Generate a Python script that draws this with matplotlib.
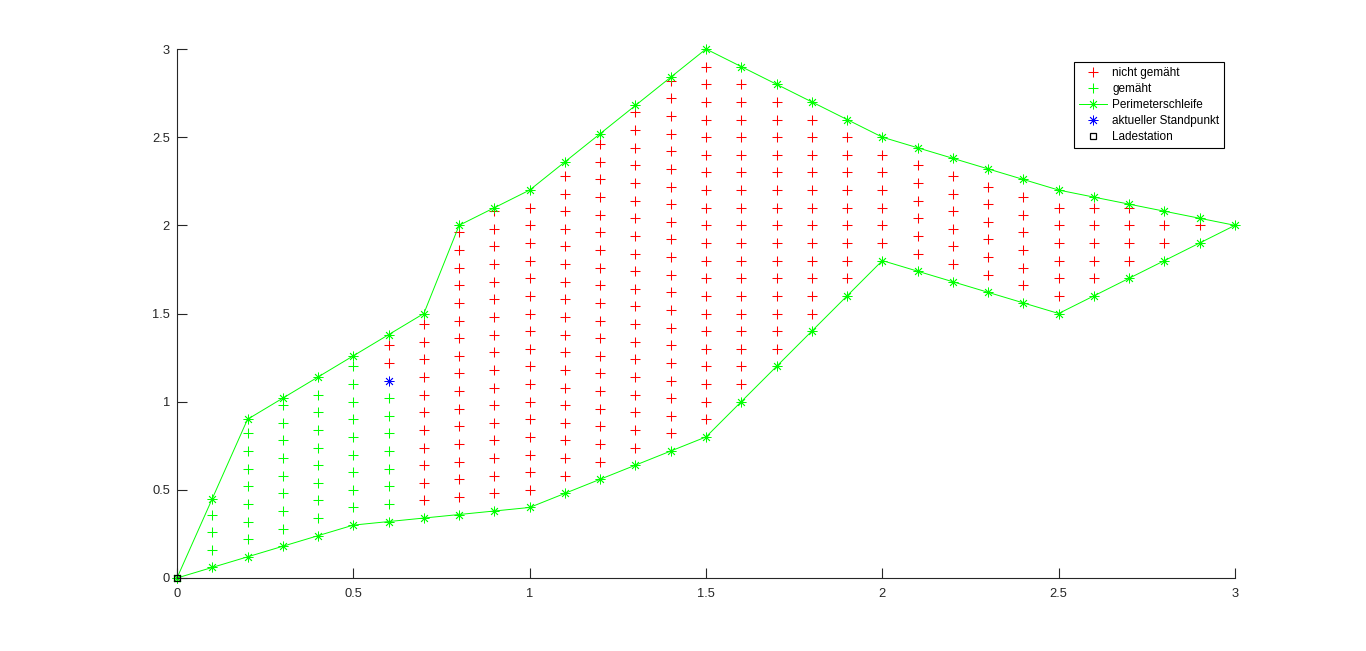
import numpy as np
import matplotlib
matplotlib.use("Agg")
import matplotlib.pyplot as plt
from matplotlib.ticker import FuncFormatter

plt.rcParams['font.family'] = ['Liberation Sans', 'DejaVu Sans']

# Perimeterschleife (geschlossen: oben hin, unten zurück)
perim_x = [0.0, 0.1, 0.2, 0.3, 0.4, 0.5, 0.6, 0.7, 0.8, 0.9, 1.0, 1.1, 1.2, 1.3, 1.4, 1.5,
           1.6, 1.7, 1.8, 1.9, 2.0, 2.1, 2.2, 2.3, 2.4, 2.5, 2.6, 2.7, 2.8, 2.9, 3.0,
           2.9, 2.8, 2.7, 2.6, 2.5, 2.4, 2.3, 2.2, 2.1, 2.0, 1.9, 1.8, 1.7, 1.6, 1.5,
           1.4, 1.3, 1.2, 1.1, 1.0, 0.9, 0.8, 0.7, 0.6, 0.5, 0.4, 0.3, 0.2, 0.1, 0.0]
perim_y = [0.0, 0.45, 0.9, 1.02, 1.14, 1.26, 1.38, 1.5, 2.0, 2.1, 2.2, 2.36, 2.52, 2.68, 2.84, 3.0,
           2.9, 2.8, 2.7, 2.6, 2.5, 2.44, 2.38, 2.32, 2.26, 2.2, 2.16, 2.12, 2.08, 2.04, 2.0,
           1.9, 1.8, 1.7, 1.6, 1.5, 1.56, 1.62, 1.68, 1.74, 1.8, 1.6, 1.4, 1.2, 1.0, 0.8,
           0.72, 0.64, 0.56, 0.48, 0.4, 0.38, 0.36, 0.34, 0.32, 0.3, 0.24, 0.18, 0.12, 0.06, 0.0]

# gemähte Rasterpunkte je Spalte
gemaeht = {
    0.1: [0.16, 0.26, 0.36],
    0.2: [0.22, 0.32, 0.42, 0.52, 0.62, 0.72, 0.82],
    0.3: [0.28, 0.38, 0.48, 0.58, 0.68, 0.78, 0.88, 0.98],
    0.4: [0.34, 0.44, 0.54, 0.64, 0.74, 0.84, 0.94, 1.04],
    0.5: [0.40, 0.50, 0.60, 0.70, 0.80, 0.90, 1.00, 1.10, 1.20],
    0.6: [0.42, 0.52, 0.62, 0.72, 0.82, 0.92, 1.02],
}

# noch nicht gemähte Rasterpunkte je Spalte
nicht_gemaeht = {
    0.6: [1.22, 1.32],
    0.7: [0.44, 0.54, 0.64, 0.74, 0.84, 0.94, 1.04, 1.14, 1.24, 1.34, 1.44],
    0.8: [0.46, 0.56, 0.66, 0.76, 0.86, 0.96, 1.06, 1.16, 1.26, 1.36, 1.46, 1.56, 1.66,
          1.76, 1.86, 1.96],
    0.9: [0.48, 0.58, 0.68, 0.78, 0.88, 0.98, 1.08, 1.18, 1.28, 1.38, 1.48, 1.58, 1.68,
          1.78, 1.88, 1.98, 2.08],
    1.0: [0.50, 0.60, 0.70, 0.80, 0.90, 1.00, 1.10, 1.20, 1.30, 1.40, 1.50, 1.60, 1.70,
          1.80, 1.90, 2.00, 2.10],
    1.1: [0.58, 0.68, 0.78, 0.88, 0.98, 1.08, 1.18, 1.28, 1.38, 1.48, 1.58, 1.68, 1.78,
          1.88, 1.98, 2.08, 2.18, 2.28],
    1.2: [0.66, 0.76, 0.86, 0.96, 1.06, 1.16, 1.26, 1.36, 1.46, 1.56, 1.66, 1.76, 1.86,
          1.96, 2.06, 2.16, 2.26, 2.36, 2.46],
    1.3: [0.74, 0.84, 0.94, 1.04, 1.14, 1.24, 1.34, 1.44, 1.54, 1.64, 1.74, 1.84, 1.94,
          2.04, 2.14, 2.24, 2.34, 2.44, 2.54, 2.64],
    1.4: [0.82, 0.92, 1.02, 1.12, 1.22, 1.32, 1.42, 1.52, 1.62, 1.72, 1.82, 1.92, 2.02,
          2.12, 2.22, 2.32, 2.42, 2.52, 2.62, 2.72, 2.82],
    1.5: [0.90, 1.00, 1.10, 1.20, 1.30, 1.40, 1.50, 1.60, 1.70, 1.80, 1.90, 2.00, 2.10,
          2.20, 2.30, 2.40, 2.50, 2.60, 2.70, 2.80, 2.90],
    1.6: [1.10, 1.20, 1.30, 1.40, 1.50, 1.60, 1.70, 1.80, 1.90, 2.00, 2.10, 2.20, 2.30,
          2.40, 2.50, 2.60, 2.70, 2.80],
    1.7: [1.30, 1.40, 1.50, 1.60, 1.70, 1.80, 1.90, 2.00, 2.10, 2.20, 2.30, 2.40, 2.50,
          2.60, 2.70],
    1.8: [1.50, 1.60, 1.70, 1.80, 1.90, 2.00, 2.10, 2.20, 2.30, 2.40, 2.50, 2.60],
    1.9: [1.70, 1.80, 1.90, 2.00, 2.10, 2.20, 2.30, 2.40, 2.50],
    2.0: [1.90, 2.00, 2.10, 2.20, 2.30, 2.40],
    2.1: [1.84, 1.94, 2.04, 2.14, 2.24, 2.34],
    2.2: [1.78, 1.88, 1.98, 2.08, 2.18, 2.28],
    2.3: [1.72, 1.82, 1.92, 2.02, 2.12, 2.22],
    2.4: [1.66, 1.76, 1.86, 1.96, 2.06, 2.16],
    2.5: [1.60, 1.70, 1.80, 1.90, 2.00, 2.10],
    2.6: [1.70, 1.80, 1.90, 2.00, 2.10],
    2.7: [1.80, 1.90, 2.00, 2.10],
    2.8: [1.90, 2.00],
    2.9: [2.00],
}

standpunkt = (0.6, 1.12)
ladestation = (0.0, 0.0)

x_ticks = [0, 0.5, 1, 1.5, 2, 2.5, 3]
y_ticks = [0, 0.5, 1, 1.5, 2, 2.5, 3]


def flatten(cols):
    xs, ys = [], []
    for x, col in cols.items():
        xs += [x] * len(col)
        ys += col
    return xs, ys


ASTERISK = (8, 2, 0)
AX_COL = (0.15, 0.15, 0.15)

fig = plt.figure(figsize=(13.66, 6.51), dpi=100)
ax = fig.add_axes([177 / 1366, 1 - 578 / 651, (1235 - 177) / 1366, (578 - 49) / 651])

nx, ny = flatten(nicht_gemaeht)
gx, gy = flatten(gemaeht)
ax.plot(nx, ny, '+', color='red', markersize=6.5, markeredgewidth=0.75,
        linestyle='none', label='nicht gemäht')
ax.plot(gx, gy, '+', color=(0, 1, 0), markersize=6.5, markeredgewidth=0.75,
        linestyle='none', label='gemäht')
ax.plot(perim_x, perim_y, color=(0, 1, 0), linewidth=0.7, marker=ASTERISK,
        markersize=7, markeredgewidth=0.6, label='Perimeterschleife')
ax.plot([standpunkt[0]], [standpunkt[1]], linestyle='none', marker=ASTERISK,
        color='blue', markersize=7, markeredgewidth=0.6, label='aktueller Standpunkt')
ax.plot([ladestation[0]], [ladestation[1]], linestyle='none', marker='s',
        markerfacecolor='none', markeredgecolor='black', markersize=5,
        markeredgewidth=0.9, label='Ladestation', zorder=5)

ax.set_xlim(0, 3)
ax.set_ylim(0, 3)
ax.set_xticks(x_ticks)
ax.set_yticks(y_ticks)
fmt = FuncFormatter(lambda v, p: '%g' % v)
ax.xaxis.set_major_formatter(fmt)
ax.yaxis.set_major_formatter(fmt)

for side in ('top', 'right'):
    ax.spines[side].set_visible(False)
for side in ('left', 'bottom'):
    ax.spines[side].set_color(AX_COL)
    ax.spines[side].set_linewidth(0.8)
ax.tick_params(direction='in', length=7, width=0.8, color=AX_COL,
               labelcolor=AX_COL, labelsize=9.3)
ax.tick_params(axis='x', pad=7)
ax.tick_params(axis='y', pad=5)

for line in ax.lines:
    line.set_clip_on(False)

leg = ax.legend(loc='upper right', bbox_to_anchor=(0.9896, 0.975), fontsize=8.5,
                frameon=True, fancybox=False, framealpha=1, edgecolor='black',
                borderaxespad=0, handlelength=2.4, handletextpad=0.4,
                labelspacing=0.35, borderpad=0.4)
leg.get_frame().set_linewidth(0.8)

fig.savefig('out.png', dpi=100, facecolor='white')
